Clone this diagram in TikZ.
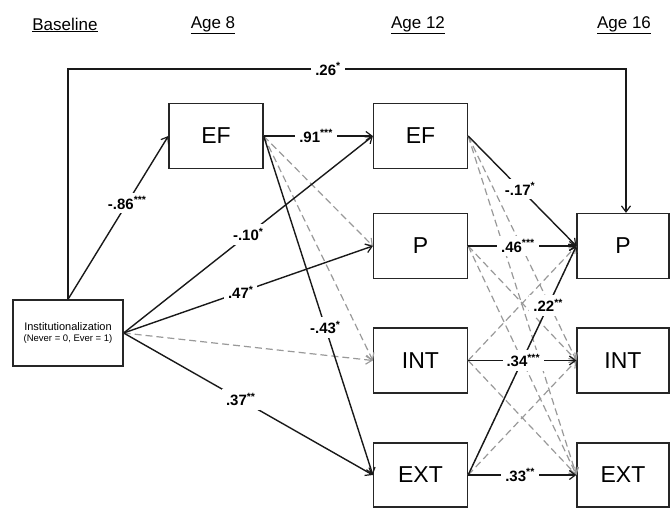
\documentclass[tikz,border=0pt]{standalone}
\usepackage{fontspec}
\setmainfont{Liberation Sans}
\usetikzlibrary{arrows.meta}
\begin{document}
\begin{tikzpicture}[x=1pt,y=-1pt,
  box/.style={draw=black!85, line width=1.3pt, minimum width=94pt, minimum height=65pt, inner sep=0pt, font=\fontsize{23}{25}\selectfont},
  sol/.style={draw=black!90, line width=1.4pt, -{Straight Barb[length=6pt,width=9pt,line width=1.2pt]}},
  das/.style={draw=black!40, line width=1.2pt, dash pattern=on 7pt off 4pt, -{Straight Barb[length=6pt,width=9pt,line width=1.1pt]}},
  lbl/.style={fill=white, inner xsep=4pt, inner ysep=4pt, font=\bfseries\fontsize{15}{16}\selectfont},
  hdr/.style={font=\fontsize{17}{19}\selectfont}]
\useasboundingbox (0,0) rectangle (670,508);
% headers
\node[hdr] (hb) at (65,25) {\underline{Baseline}};
\node[hdr] (h8) at (213,25) {\underline{Age 8}};
\node[hdr] (h12) at (418,25) {\underline{Age 12}};
\node[hdr] (h16) at (624,25) {\underline{Age 16}};
% boxes
\node[draw=black!85, line width=1.3pt, minimum width=110pt, minimum height=66pt, inner sep=0pt, align=center] (inst) at (68,333)
  {{\fontsize{11}{13}\selectfont Institutionalization}\\[-1pt]{\fontsize{9.5}{11}\selectfont (Never = 0, Ever = 1)}};
\node[box] (ef8) at (216,136) {EF};
\node[box] (ef12) at (420.5,136) {EF};
\node[box] (p12) at (420.5,246) {P};
\node[box] (int12) at (420.5,360.5) {INT};
\node[box, minimum height=64pt] (ext12) at (420.5,475) {EXT};
\node[box, minimum width=92pt] (p16) at (623,246) {P};
\node[box, minimum width=92pt] (int16) at (623,360.5) {INT};
\node[box, minimum width=92pt, minimum height=64pt] (ext16) at (623,475) {EXT};
\coordinate (tr) at (626,69);
% dashed paths
\draw[das] (inst.east) -- (int12.west);
\draw[das] (ef8.east) -- (p12.west);
\draw[das] (ef8.east) -- (int12.west);
\draw[das] (ef12.east) -- (int16.west);
\draw[das] (ef12.east) -- (ext16.west);
\draw[das] (p12.east) -- (int16.west);
\draw[das] (p12.east) -- (ext16.west);
\draw[das] (int12.east) -- (p16.west);
\draw[das] (int12.east) -- (ext16.west);
\draw[das] (ext12.east) -- (p16.west);
\draw[das] (ext12.east) -- (int16.west);
% solid paths
\draw[sol] (inst.north) |- (tr) -- (tr |- p16.north);
\draw[sol] (inst.north) -- (ef8.west);
\draw[sol] (inst.east) -- (ef12.west);
\draw[sol] (inst.east) -- (p12.west);
\draw[sol] (inst.east) -- (ext12.west);
\draw[sol] (ef8.east) -- (ef12.west);
\draw[sol] (ef8.east) -- (ext12.west);
\draw[sol] (ef12.east) -- (p16.west);
\draw[sol] (p12.east) -- (p16.west);
\draw[sol] (int12.east) -- (int16.west);
\draw[sol] (ext12.east) -- (ext16.west);
\draw[sol] (ext12.east) -- (p16.west);
% labels
\path (inst.north |- tr) -- node[lbl, pos=0.466] {.26\textsuperscript{*}} (tr);
\path (inst.north) -- node[lbl, pos=0.59] {-.86\textsuperscript{***}} (ef8.west);
\path (inst.east) -- node[lbl, pos=0.5] {-.10\textsuperscript{*}} (ef12.west);
\path (inst.east) -- node[lbl, pos=0.47] {.47\textsuperscript{*}} (p12.west);
\path (inst.east) -- node[lbl, pos=0.47] {.37\textsuperscript{**}} (ext12.west);
\path (ef8.east) -- node[lbl, pos=0.48] {.91\textsuperscript{***}} (ef12.west);
\path (ef8.east) -- node[lbl, pos=0.565] {-.43\textsuperscript{*}} (ext12.west);
\path (ef12.east) -- node[lbl, pos=0.48] {-.17\textsuperscript{*}} (p16.west);
\path (p12.east) -- node[lbl, pos=0.46] {.46\textsuperscript{***}} (p16.west);
\path (int12.east) -- node[lbl, pos=0.51] {.34\textsuperscript{***}} (int16.west);
\path (ext12.east) -- node[lbl, pos=0.48] {.33\textsuperscript{**}} (ext16.west);
\path (ext12.east) -- node[lbl, pos=0.74] {.22\textsuperscript{**}} (p16.west);
\end{tikzpicture}
\end{document}
